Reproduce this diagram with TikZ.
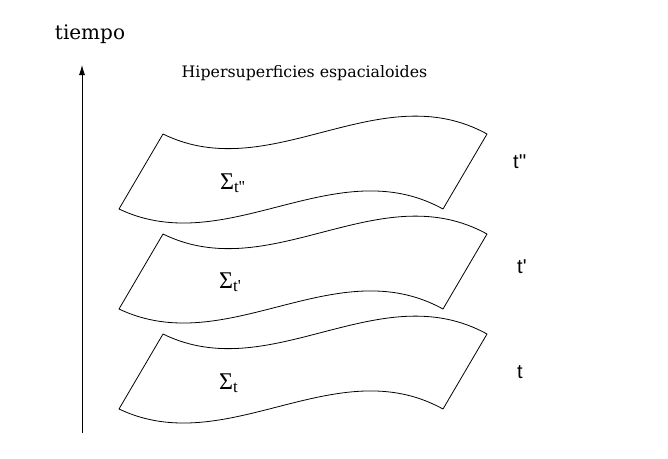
\documentclass[tikz,border=0pt]{standalone}
\usepackage{fontspec}
\setmainfont{DejaVu Serif}
\setsansfont{Liberation Sans}
\newfontfamily\sigmafont{Liberation Serif}
\usetikzlibrary{arrows.meta}
\tikzset{
  hojastyle/.style={draw=black, line width=0.8pt, line join=round},
  arrowstyle/.style={-{Latex[length=10pt,width=6pt]}, line width=0.8pt},
  textostyle/.style={inner sep=0pt, font=\fontsize{15.8}{19}\selectfont},
  tiempostyle/.style={inner sep=0pt, font=\fontsize{20}{24}\selectfont},
  etiquetastyle/.style={inner sep=0pt, anchor=base west, font=\fontsize{20}{24}\selectfont\sffamily},
  sigmastyle/.style={inner sep=0pt, anchor=base west, font=\sigmafont\fontsize{24}{28}\selectfont}
}

\begin{document}
\begin{tikzpicture}[x=1pt,y=-1pt]
  \useasboundingbox (0,0) rectangle (668,458);

  % eje del tiempo
  \node[tiempostyle] (tiempo) at (90,34) {tiempo};
  \coordinate (ejeabajo) at (82,433);
  \coordinate (ejearriba) at (82,65);
  \draw[arrowstyle] (ejeabajo) -- (ejearriba);

  \node[textostyle] (titulo) at (304.5,73) {Hipersuperficies espacialoides};

  % hipersuperficies
  \draw[hojastyle] (119,209) .. controls (227,260.4) and (335,149.5) .. (443,209)
    -- (487,134) .. controls (379,74.5) and (271,187) .. (163,134) -- cycle;
  \begin{scope}[shift={(0,100)}]
    \draw[hojastyle] (119,209) .. controls (227,260.4) and (335,149.5) .. (443,209)
      -- (487,134) .. controls (379,74.5) and (271,187) .. (163,134) -- cycle;
  \end{scope}
  \begin{scope}[shift={(0,200)}]
    \draw[hojastyle] (119,209) .. controls (227,260.4) and (335,149.5) .. (443,209)
      -- (487,134) .. controls (379,74.5) and (271,187) .. (163,134) -- cycle;
  \end{scope}

  \node[sigmastyle] (sigmatpp) at (220,189) {Σ\textsubscript{t\textquotesingle\textquotesingle}};
  \node[sigmastyle] (sigmatp) at (219,288) {Σ\textsubscript{t\textquotesingle}};
  \node[sigmastyle] (sigmat) at (219,389) {Σ\textsubscript{t}};

  \node[etiquetastyle] (tpp) at (513,168) {t\textquotesingle\textquotesingle};
  \node[etiquetastyle] (tp) at (517,273) {t\textquotesingle};
  \node[etiquetastyle] (t) at (517,378) {t};
\end{tikzpicture}
\end{document}
